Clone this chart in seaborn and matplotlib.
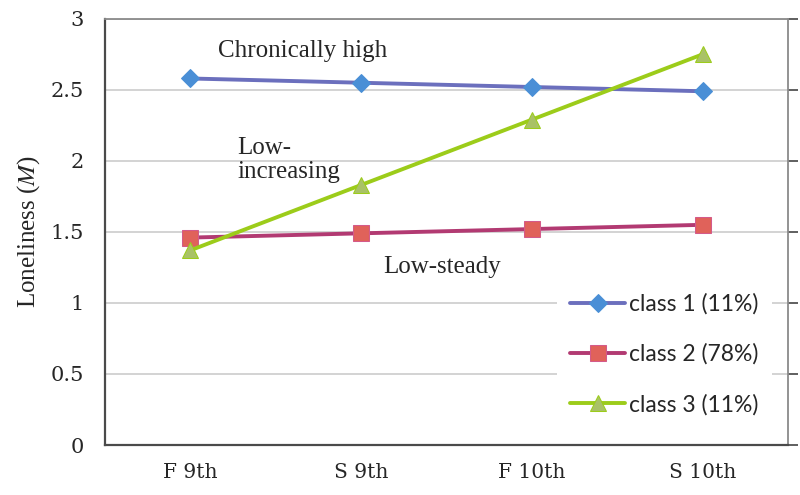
import pandas as pd
import matplotlib.pyplot as plt
import seaborn as sns

waves = ["F 9th", "S 9th", "F 10th", "S 10th"]
class1 = [2.58, 2.55, 2.52, 2.49]
class2 = [1.46, 1.49, 1.52, 1.55]
class3 = [1.37, 1.83, 2.29, 2.75]
labels = ["class 1 (11%)", "class 2 (78%)", "class 3 (11%)"]

sns.set_style("white")
plt.rcParams["font.family"] = ["DejaVu Serif"]
plt.rcParams["mathtext.fontset"] = "stix"

fig = plt.figure(figsize=(8, 4.95), dpi=100)
ax = fig.add_axes([0.131, 0.101, 0.854, 0.861])

# line colour, marker, marker face, marker edge, marker size
styles = [
    ("#6b6fbd", "D", "#4a8fd6", "#4a8fd6", 9),
    ("#b23a72", "s", "#e0625a", "#d45a8a", 11),
    ("#9ccc1a", "^", "#a9c266", "#9ccc1a", 11),
]

for vals, lab, st in zip([class1, class2, class3], labels, styles):
    df = pd.DataFrame({"wave": waves, "value": vals})
    sns.lineplot(data=df, x="wave", y="value", sort=False, ax=ax, label=lab,
                 color=st[0], marker=st[1], markerfacecolor=st[2],
                 markeredgecolor=st[3], markersize=st[4], linewidth=2.8)

ax.set_xlim(-0.5, 3.5)
ax.set_ylim(0, 3)
ax.set_yticks([0, 0.5, 1, 1.5, 2, 2.5, 3])
ax.set_yticklabels(["0", "0.5", "1", "1.5", "2", "2.5", "3"])
ax.set_xticks(range(4))
ax.set_xticks([-0.5, 0.5, 1.5, 2.5, 3.5], minor=True)
ax.tick_params(axis="x", which="major", length=0, pad=13, labelsize=14.5)
ax.tick_params(axis="x", which="minor", length=6, width=1.2, color="#444444", direction="out")
ax.tick_params(axis="y", which="major", length=7, width=1.2, color="#444444",
               direction="out", labelsize=15, pad=8, right=True)
ax.grid(axis="y", color="#d0d0d0", linewidth=1.3)
ax.set_axisbelow(True)
ax.set_xlabel("")
ax.set_ylabel("Loneliness ($M$)", fontsize=18, family="Liberation Serif", labelpad=6)

for s in ["left", "bottom"]:
    ax.spines[s].set_color("#4a4a4a")
    ax.spines[s].set_linewidth(1.6)
for s in ["top", "right"]:
    ax.spines[s].set_visible(True)
    ax.spines[s].set_color("#8a8a8a")
    ax.spines[s].set_linewidth(1.3)

ax.text(0.165, 2.77, "Chronically high", fontsize=18, family="Liberation Serif", va="center")
ax.text(0.275, 2.17, "Low-\nincreasing", fontsize=18, family="Liberation Serif",
        va="top", linespacing=1.15)
ax.text(1.13, 1.25, "Low-steady", fontsize=18, family="Liberation Serif", va="center")

leg = ax.legend(loc="lower right", bbox_to_anchor=(1.0, 0.0), frameon=True,
                framealpha=1, edgecolor="none", facecolor="white",
                prop={"family": "Lato", "size": 16.5}, handlelength=2.4,
                handletextpad=0.15, labelspacing=1.25, borderpad=0.6,
                borderaxespad=0.7)

fig.savefig("out.png", dpi=100)
